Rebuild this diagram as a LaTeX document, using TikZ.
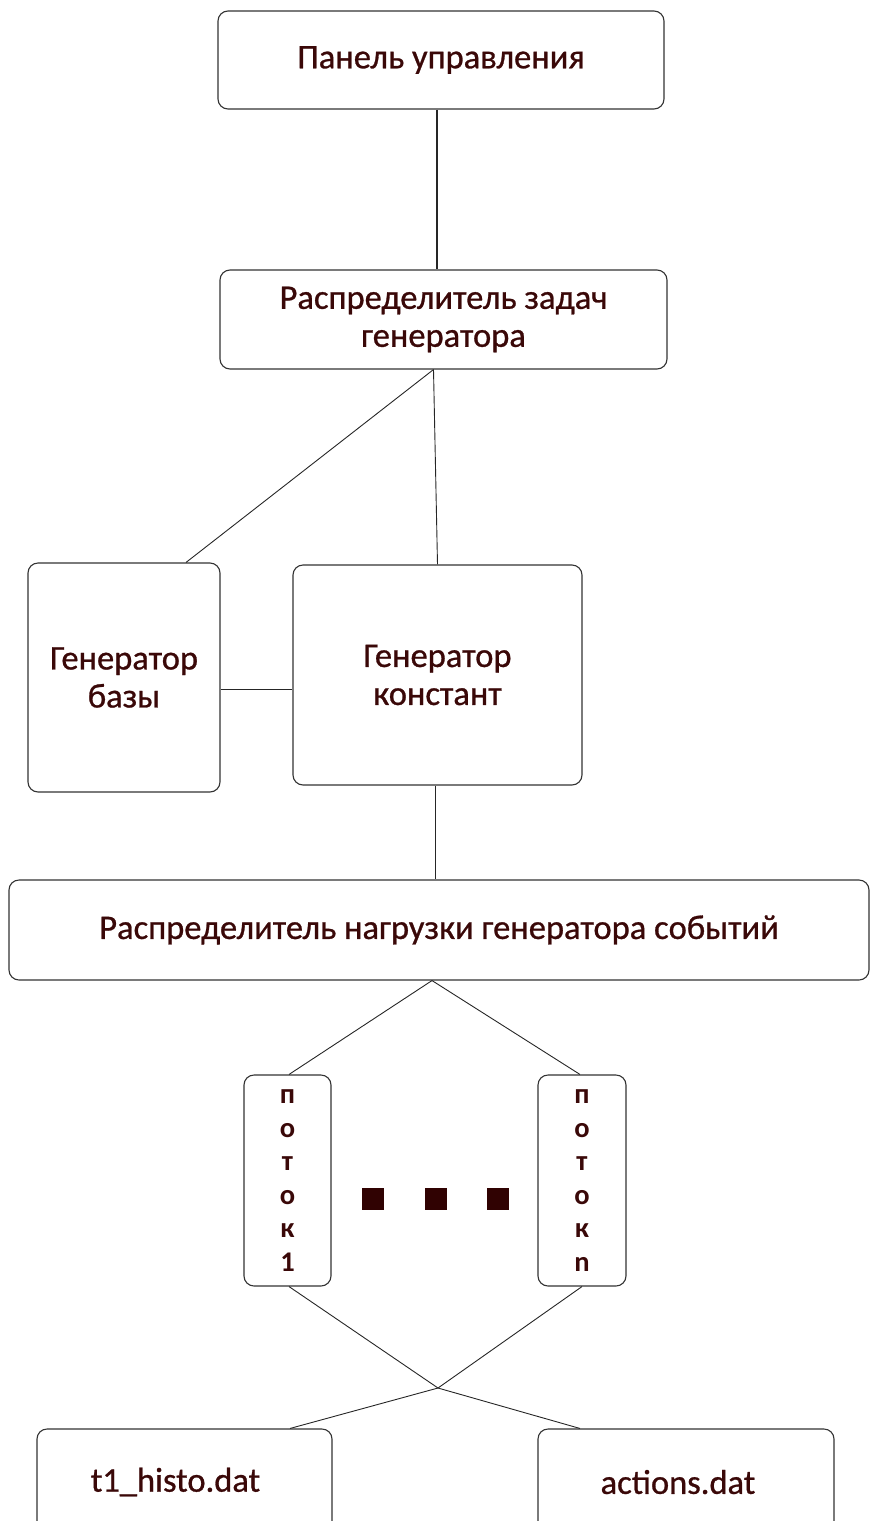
\documentclass[tikz,border=0pt]{standalone}
\usepackage{fontspec}
\setmainfont{Carlito}[FakeBold=0.8]
\newfontfamily\threadfont{Carlito}[UprightFont=* Bold]
\definecolor{txt}{RGB}{58,8,8}
\definecolor{sq}{RGB}{48,2,2}
\begin{document}
\begin{tikzpicture}[x=1pt,y=-1pt,
  box/.style={draw=black!80, line width=1.1pt, rounded corners=10pt, inner sep=0pt,
    align=center, text=txt, font=\fontsize{34.5}{38}\selectfont},
  thread/.style={box, font=\threadfont\fontsize{28.5}{33.5}\selectfont},
  conn/.style={draw=black!85, line width=0.9pt},
  dot/.style={fill=sq, draw=none, minimum size=22pt, inner sep=0pt}]
\useasboundingbox (0,0) rectangle (871,1521);
\node[box, minimum width=446pt, minimum height=98pt] (panel) at (441,60) {Панель управления};
\node[box, minimum width=447pt, minimum height=99pt] (task) at (443.5,319.5) {Распределитель задач\\генератора};
\node[box, minimum width=192pt, minimum height=229pt] (base) at (124,677.5) {Генератор\\базы};
\node[box, minimum width=289pt, minimum height=220pt] (const) at (437.5,675) {Генератор\\констант};
\node[box, minimum width=860pt, minimum height=100pt] (load) at (439,930) {Распределитель нагрузки генератора событий};
\node[thread, minimum width=87pt, minimum height=211pt] (t1) at (287.5,1180.5) {п\\о\\т\\о\\к\\1};
\node[thread, minimum width=88pt, minimum height=211pt] (tn) at (582,1180.5) {п\\о\\т\\о\\к\\n};
\node[dot] (d1) at (373,1199) {};
\node[dot] (d2) at (436,1199) {};
\node[dot] (d3) at (498,1199) {};
\node[box, minimum width=295pt, minimum height=106pt] (histo) at (184.5,1482) {t1\_histo.dat\hspace*{18pt}};
\node[box, minimum width=296pt, minimum height=106pt] (act) at (686,1482) {actions.dat\hspace*{16pt}};
\coordinate (x) at (438,1388);
\draw[conn, line width=1.8pt] ([xshift=-4pt]panel.south) -- ([xshift=-6.5pt]task.north);
\draw[conn] ([xshift=-10pt]task.south) -- ([xshift=62pt]base.north);
\draw[conn] ([xshift=-10pt]task.south) -- (const.north);
\draw[conn] ([yshift=-11.5pt]base.east) -- ([yshift=-14pt]const.west);
\draw[conn] ([xshift=-2.5pt]const.south) -- ([xshift=-4pt]load.north);
\draw[conn] ([xshift=-7pt]load.south) -- ([xshift=1.5pt]t1.north);
\draw[conn] ([xshift=-7pt]load.south) -- ([xshift=-2pt]tn.north);
\draw[conn] ([xshift=1.5pt]t1.south) -- (x);
\draw[conn] (tn.south) -- (x);
\draw[conn] (x) -- ([xshift=105.5pt]histo.north);
\draw[conn] (x) -- ([xshift=-106pt]act.north);
\end{tikzpicture}
\end{document}
